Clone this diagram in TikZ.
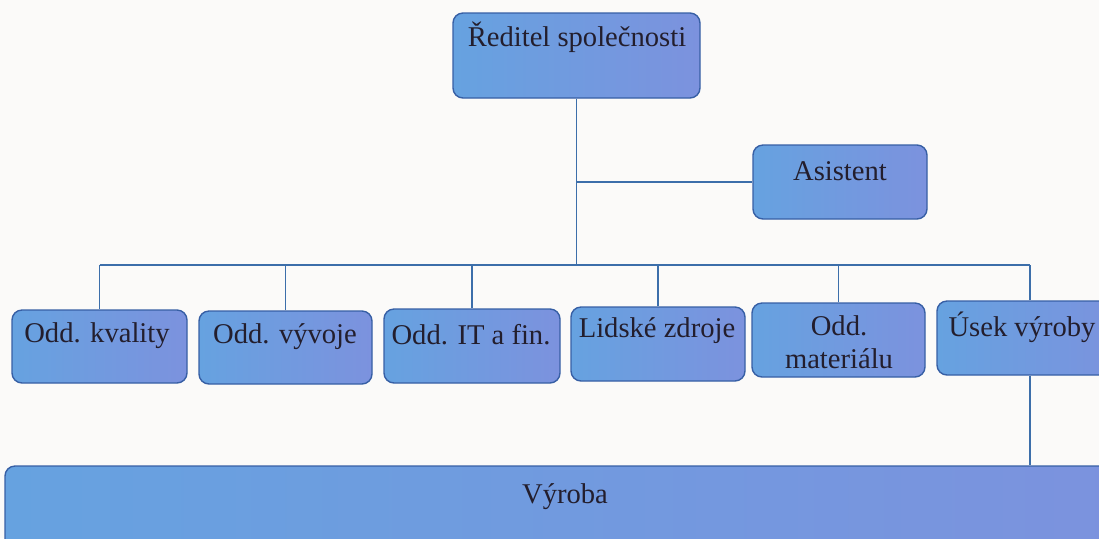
\documentclass[tikz,border=0pt]{standalone}
\usepackage{fontspec}
\setmainfont{Liberation Serif}
\usetikzlibrary{fit}
\definecolor{boxa}{RGB}{102,162,224}
\definecolor{boxb}{RGB}{124,146,222}
\definecolor{boxedge}{RGB}{55,95,165}
\definecolor{lineblue}{RGB}{60,110,170}
\definecolor{txt}{RGB}{35,30,45}
\definecolor{paper}{RGB}{251,250,249}
\begin{document}
\begin{tikzpicture}[x=0.5pt,y=-0.5pt,
  box/.style={draw=boxedge, line width=0.7pt, rounded corners=5pt,
    left color=boxa, right color=boxb, inner sep=0pt},
  lbl/.style={font=\fontsize{14.3}{16.5}\selectfont, text=txt, inner sep=0pt, align=center},
  conn/.style={draw=lineblue, line width=0.6pt}]
\clip (0,0) rectangle (1099,538);
\fill[paper] (0,0) rectangle (1099,538);
% boxes
\node[box, fit={(453,13) (700,98)}] (dir) {};
\node[box, fit={(753,145) (927,219)}] (asi) {};
\node[box, fit={(12,310) (187,383)}] (kval) {};
\node[box, fit={(199,311) (372,384)}] (vyv) {};
\node[box, fit={(384,309) (560,383)}] (it) {};
\node[box, fit={(571,307) (745,381)}] (lz) {};
\node[box, fit={(752,303) (925,377)}] (mat) {};
\node[box, fit={(937,301) (1123,375)}] (usek) {};
\node[box, fit={(5,466) (1130,570)}] (vyr) {};
% labels
\node[lbl] (tdir) at (577,37) {Ředitel společnosti};
\node[lbl] (tasi) at (840,171) {Asistent};
\node[lbl] (tkval) at (97,336) {Odd. kvality};
\node[lbl] (tvyv) at (285,337) {Odd. vývoje};
\node[lbl] (tit) at (471,335) {Odd. IT a fin.};
\node[lbl] (tlz) at (657,331) {Lidské zdroje};
\node[lbl] (tmat) at (839,342) {Odd.\\materiálu};
\node[lbl] (tusek) at (1022,327) {Úsek výroby};
\node[lbl] (tvyr) at (565,497) {Výroba};
% connectors
\coordinate (bus) at (572,265);
\draw[conn] (dir.south) -- (dir.south |- bus);
\draw[conn] (dir.south |- asi.west) -- (asi.west);
\draw[conn] (kval.north |- bus) -- (usek.north |- bus);
\foreach \n in {kval,vyv,it,lz,mat,usek}
  \draw[conn] (\n.north) -- (\n.north |- bus);
\draw[conn] (usek.south) -- (usek.south |- vyr.north);
\end{tikzpicture}
\end{document}
